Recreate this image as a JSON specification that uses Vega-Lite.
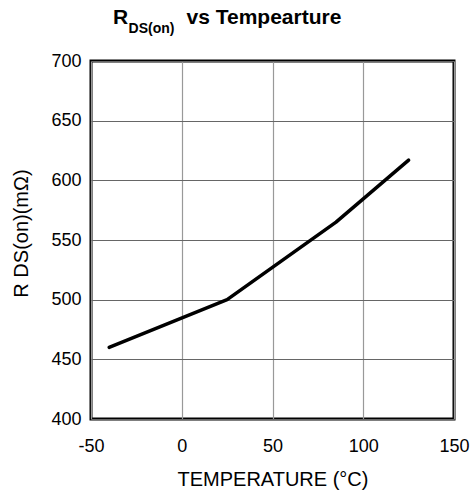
{
  "$schema": "https://vega.github.io/schema/vega-lite/v6.json",
  "width": 363,
  "height": 358,
  "autosize": "none",
  "padding": {"left": 91, "top": 61, "right": 21, "bottom": 75},
  "background": "white",
  "title": {
    "text": "R\u00a0\u00a0\u00a0\u00a0\u00a0\u00a0\u00a0\u00a0\u00a0\u00a0vs Tempearture",
    "subtitle": "\u200b\u00a0\u00a0\u00a0\u00a0DS(on)",
    "anchor": "start",
    "frame": "group",
    "dx": 22,
    "font": "Liberation Sans",
    "fontSize": 21,
    "fontWeight": "bold",
    "color": "black",
    "subtitleFont": "Liberation Sans",
    "subtitleFontSize": 14,
    "subtitleFontWeight": "bold",
    "subtitleColor": "black",
    "subtitlePadding": -6,
    "offset": 16
  },
  "data": {
    "values": [
      {"temp": -40, "rds": 460},
      {"temp": 25, "rds": 500},
      {"temp": 85, "rds": 565},
      {"temp": 125, "rds": 617}
    ]
  },
  "mark": {"type": "line", "color": "black", "strokeWidth": 3.5, "strokeCap": "round", "strokeJoin": "round"},
  "encoding": {
    "x": {
      "field": "temp",
      "type": "quantitative",
      "scale": {"domain": [-50, 150], "nice": false},
      "axis": {
        "values": [-50, 0, 50, 100, 150],
        "labelExpr": "'' + datum.value",
        "title": "TEMPERATURE (°C)",
        "ticks": false,
        "domain": false,
        "gridColor": "#999999",
        "gridWidth": 1.2,
        "gridOpacity": 1,
        "labelPadding": 18,
        "labelFont": "Liberation Sans",
        "labelFontSize": 18,
        "labelColor": "black",
        "labelFlush": false,
        "titleFont": "Liberation Sans",
        "titleFontSize": 20,
        "titleFontWeight": "normal",
        "titleColor": "black",
        "titlePadding": 14
      }
    },
    "y": {
      "field": "rds",
      "type": "quantitative",
      "scale": {"domain": [400, 700], "nice": false, "zero": false},
      "axis": {
        "values": [400, 450, 500, 550, 600, 650, 700],
        "title": "R DS(on)(mΩ)",
        "ticks": false,
        "domain": false,
        "gridColor": "#666666",
        "gridWidth": 1.2,
        "gridOpacity": 1,
        "labelPadding": 10,
        "labelFont": "Liberation Sans",
        "labelFontSize": 18,
        "labelColor": "black",
        "labelFlush": false,
        "titleFont": "Liberation Sans",
        "titleFontSize": 20,
        "titleFontWeight": "normal",
        "titleColor": "black",
        "titlePadding": 19,
        "titleY": 172
      }
    }
  },
  "config": {
    "view": {"stroke": "black", "strokeWidth": 3}
  }
}
